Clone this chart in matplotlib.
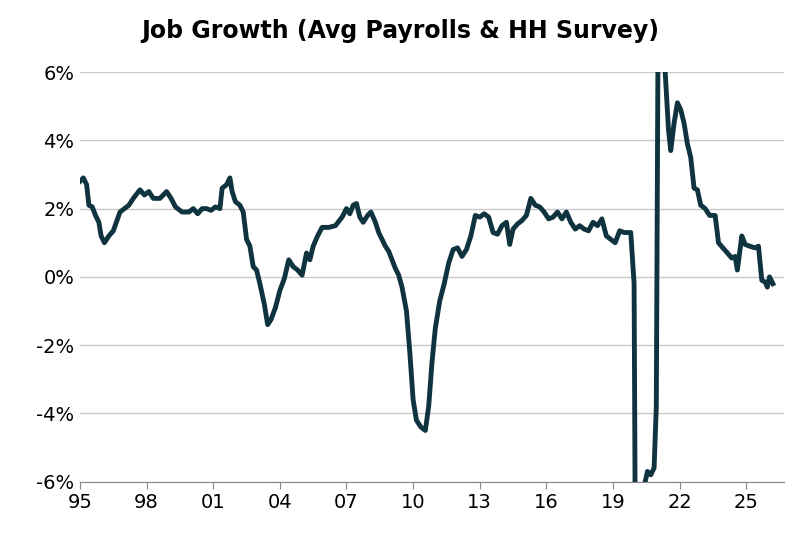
import matplotlib
matplotlib.use("Agg")
import matplotlib.pyplot as plt
from matplotlib.ticker import FuncFormatter

# (year, job growth %)
points = [
 (1995.0,2.8),(1995.15,2.9),(1995.3,2.7),(1995.4,2.1),(1995.55,2.05),(1995.7,1.8),(1995.85,1.6),
 (1995.95,1.2),(1996.1,1.0),(1996.3,1.2),(1996.5,1.35),(1996.8,1.9),(1997.0,2.0),(1997.2,2.1),
 (1997.4,2.3),(1997.7,2.55),(1997.9,2.4),(1998.1,2.5),(1998.3,2.3),(1998.6,2.3),(1998.9,2.5),
 (1999.1,2.3),(1999.3,2.05),(1999.6,1.9),(1999.9,1.9),(2000.1,2.0),(2000.3,1.85),(2000.5,2.0),
 (2000.7,2.0),(2000.9,1.95),(2001.1,2.05),(2001.3,2.0),(2001.4,2.6),(2001.6,2.7),(2001.75,2.9),
 (2001.85,2.5),(2002.0,2.2),(2002.2,2.1),(2002.35,1.9),(2002.5,1.1),(2002.65,0.9),(2002.8,0.3),
 (2002.95,0.2),(2003.1,-0.2),(2003.3,-0.8),(2003.45,-1.4),(2003.6,-1.25),(2003.8,-0.9),
 (2004.0,-0.4),(2004.2,-0.05),(2004.4,0.5),(2004.6,0.3),(2004.8,0.2),(2005.0,0.05),(2005.2,0.7),
 (2005.35,0.5),(2005.5,0.9),(2005.7,1.2),(2005.9,1.45),(2006.2,1.45),(2006.5,1.5),(2006.8,1.75),
 (2007.0,2.0),(2007.15,1.85),(2007.3,2.1),(2007.45,2.15),(2007.6,1.75),(2007.75,1.6),(2007.95,1.8),
 (2008.1,1.9),(2008.3,1.6),(2008.45,1.3),(2008.6,1.1),(2008.75,0.9),(2008.9,0.75),(2009.05,0.5),
 (2009.2,0.25),(2009.35,0.05),(2009.5,-0.3),(2009.7,-1.0),(2009.85,-2.2),(2010.0,-3.6),
 (2010.15,-4.2),(2010.35,-4.4),(2010.55,-4.5),(2010.7,-3.8),(2010.85,-2.5),(2011.0,-1.5),
 (2011.2,-0.7),(2011.4,-0.2),(2011.6,0.4),(2011.8,0.8),(2012.0,0.85),(2012.2,0.6),(2012.4,0.8),
 (2012.6,1.2),(2012.8,1.8),(2013.0,1.75),(2013.2,1.85),(2013.4,1.75),(2013.6,1.3),(2013.8,1.25),
 (2014.0,1.5),(2014.2,1.6),(2014.35,0.95),(2014.5,1.4),(2014.7,1.55),(2014.9,1.65),(2015.1,1.8),
 (2015.3,2.3),(2015.5,2.1),(2015.7,2.05),(2015.9,1.9),(2016.1,1.7),(2016.3,1.75),(2016.5,1.9),
 (2016.7,1.7),(2016.9,1.9),(2017.1,1.6),(2017.3,1.4),(2017.5,1.5),(2017.7,1.4),(2017.9,1.35),
 (2018.1,1.6),(2018.3,1.5),(2018.5,1.7),(2018.7,1.2),(2018.9,1.1),(2019.1,1.0),(2019.3,1.35),
 (2019.5,1.3),(2019.8,1.3),(2019.95,-0.2),(2020.05,-14),(2020.3,-14),(2020.45,-6.0),
 (2020.55,-5.7),(2020.7,-5.8),(2020.85,-5.6),(2020.95,-3.8),(2021.05,10),(2021.25,10),
 (2021.35,6.0),(2021.5,4.3),(2021.6,3.7),(2021.75,4.5),(2021.9,5.1),(2022.05,4.9),(2022.2,4.5),
 (2022.35,3.9),(2022.5,3.5),(2022.65,2.6),(2022.8,2.55),(2022.95,2.1),(2023.15,2.0),
 (2023.35,1.8),(2023.6,1.8),(2023.75,1.0),(2023.95,0.85),(2024.15,0.7),(2024.35,0.55),
 (2024.5,0.6),(2024.6,0.2),(2024.8,1.2),(2024.95,0.95),(2025.15,0.9),(2025.4,0.85),
 (2025.55,0.9),(2025.7,-0.1),(2025.85,-0.15),(2025.95,-0.3),(2026.05,0.0),(2026.2,-0.2),
]
years = [p[0] for p in points]
growth = [p[1] for p in points]

yticks = [-6, -4, -2, 0, 2, 4, 6]
xtick_years = [1995, 1998, 2001, 2004, 2007, 2010, 2013, 2016, 2019, 2022, 2025]
xtick_labels = ["95", "98", "01", "04", "07", "10", "13", "16", "19", "22", "25"]

fig, ax = plt.subplots(figsize=(8, 5.34), dpi=100)
fig.subplots_adjust(left=0.1, right=0.98, top=0.865, bottom=0.098)
ax.plot(years, growth, color="#0f3440", lw=3.5, solid_joinstyle="round", zorder=3)
ax.set_xlim(1995, 2026.7)
ax.set_ylim(-6, 6)
ax.set_yticks(yticks)
ax.yaxis.set_major_formatter(FuncFormatter(lambda v, p: f"{int(v)}%"))
ax.set_xticks(xtick_years)
ax.set_xticklabels(xtick_labels)
ax.grid(axis="y", color="#c8c8c8", lw=1)
for s in ["top", "right", "left"]:
    ax.spines[s].set_visible(False)
ax.spines["bottom"].set_color("#888888")
ax.tick_params(axis="y", length=0, labelsize=14, pad=4)
ax.tick_params(axis="x", length=5, labelsize=14, color="#888888")
fig.suptitle("Job Growth (Avg Payrolls & HH Survey)", fontsize=17, fontweight="bold", y=0.965)
fig.savefig("out.png")
